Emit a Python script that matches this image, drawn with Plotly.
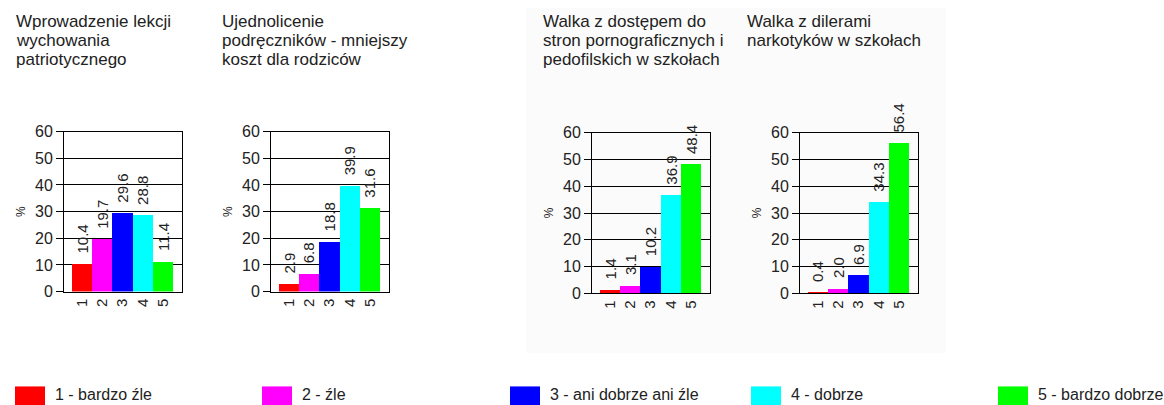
import plotly.graph_objects as go

# ---------------- data ----------------
categories = ["1", "2", "3", "4", "5"]
legend_labels = ["1 - bardzo źle", "2 - źle", "3 - ani dobrze ani źle", "4 - dobrze", "5 - bardzo dobrze"]
colors = ["#ff0000", "#ff00ff", "#0000ff", "#00ffff", "#00ff00"]

title1 = ["Wprowadzenie lekcji", "wychowania", "patriotycznego"]
title2 = ["Ujednolicenie", "podręczników - mniejszy", "koszt dla rodziców"]
title3 = ["Walka z dostępem do", "stron pornograficznych i", "pedofilskich w szkołach"]
title4 = ["Walka z dilerami", "narkotyków w szkołach"]

vals1 = [10.4, 19.7, 29.6, 28.8, 11.4]
vals2 = [2.9, 6.8, 18.8, 39.9, 31.6]
vals3 = [1.4, 3.1, 10.2, 36.9, 48.4]
vals4 = [0.4, 2.0, 6.9, 34.3, 56.4]

y_ticks = [0, 10, 20, 30, 40, 50, 60]

# ---------------- layout geometry (pixels) ----------------
W, H = 1164, 405
FONT = "Liberation Sans, Arial, sans-serif"
TXT = "#222222"

panels = [
    dict(vals=vals1, title=title1, left=64, top=129, bottom=296, tx=14),
    dict(vals=vals2, title=title2, left=271, top=129, bottom=296, tx=220),
    dict(vals=vals3, title=title3, left=592, top=130, bottom=298, tx=541),
    dict(vals=vals4, title=title4, left=800, top=130, bottom=298, tx=745),
]
BOX_W = 118

legend_x = [15, 262, 510, 751, 998]

fig = go.Figure()
annotations = []
shapes = []

# faint background panel behind the right pair of charts
shapes.append(dict(type="rect", xref="paper", yref="paper",
                   x0=526 / W, x1=946 / W, y0=1 - 360 / H, y1=1.0,
                   fillcolor="#fbfbfb", line=dict(width=0), layer="below"))

xs = list(range(1, len(categories) + 1))

for i, p in enumerate(panels, start=1):
    xa = "x" if i == 1 else f"x{i}"
    ya = "y" if i == 1 else f"y{i}"
    fig.add_trace(go.Bar(
        x=xs, y=p["vals"], width=1,
        marker=dict(color=colors, line=dict(width=0)),
        xaxis=xa, yaxis=ya, showlegend=False, hoverinfo="x+y",
    ))
    fig.layout[f"xaxis{'' if i == 1 else i}"] = dict(
        domain=[p["left"] / W, (p["left"] + BOX_W) / W],
        anchor=ya, range=[0.1, 5.95],
        tickvals=xs, ticktext=categories, tickangle=-90,
        tickfont=dict(family=FONT, size=15, color=TXT),
        showline=True, linecolor="black", linewidth=1, mirror=True,
        showgrid=False, zeroline=False, ticks="", fixedrange=True,
    )
    fig.layout[f"yaxis{'' if i == 1 else i}"] = dict(
        domain=[1 - p["bottom"] / H, 1 - p["top"] / H],
        anchor=xa, range=[0, 60], tickvals=y_ticks,
        tickfont=dict(family=FONT, size=16, color=TXT),
        showgrid=True, gridcolor="black", gridwidth=1,
        showline=True, linecolor="black", linewidth=1, mirror=True,
        ticks="outside", ticklen=7, tickcolor="black",
        zeroline=False, fixedrange=True,
        title=dict(text="%", font=dict(family=FONT, size=12, color=TXT), standoff=6),
    )
    # value labels above bars
    for x, v in zip(xs, p["vals"]):
        annotations.append(dict(
            x=x, y=v, xref=xa, yref=ya, text=f"{v:.1f}",
            showarrow=False, textangle=-90, xanchor="center", yanchor="bottom",
            yshift=8, font=dict(family=FONT, size=15, color=TXT),
        ))
    # title lines
    for k, line in enumerate(p["title"]):
        annotations.append(dict(
            x=p["tx"] / W, y=1 - (2 + 20 * k) / H, xref="paper", yref="paper",
            text=line, showarrow=False, xanchor="left", yanchor="top",
            font=dict(family=FONT, size=17, color=TXT),
        ))

# legend
for lx, lab, col in zip(legend_x, legend_labels, colors):
    shapes.append(dict(type="rect", xref="paper", yref="paper",
                       x0=lx / W, x1=(lx + 30) / W, y0=1 - 418 / H, y1=1 - 395 / H,
                       fillcolor=col, line=dict(width=0)))
    annotations.append(dict(
        x=(lx + 38) / W, y=1 - 403 / H, xref="paper", yref="paper",
        text=lab, showarrow=False, xanchor="left", yanchor="middle",
        font=dict(family=FONT, size=16, color=TXT),
    ))

fig.update_layout(
    width=W, height=H,
    margin=dict(l=0, r=0, t=0, b=0),
    paper_bgcolor="white", plot_bgcolor="white",
    annotations=annotations, shapes=shapes,
    bargap=0, showlegend=False,
)

fig.write_html(
    "out.html",
    config={"displayModeBar": False},
    post_script="document.body.style.margin='0';document.body.style.overflow='hidden';",
)
